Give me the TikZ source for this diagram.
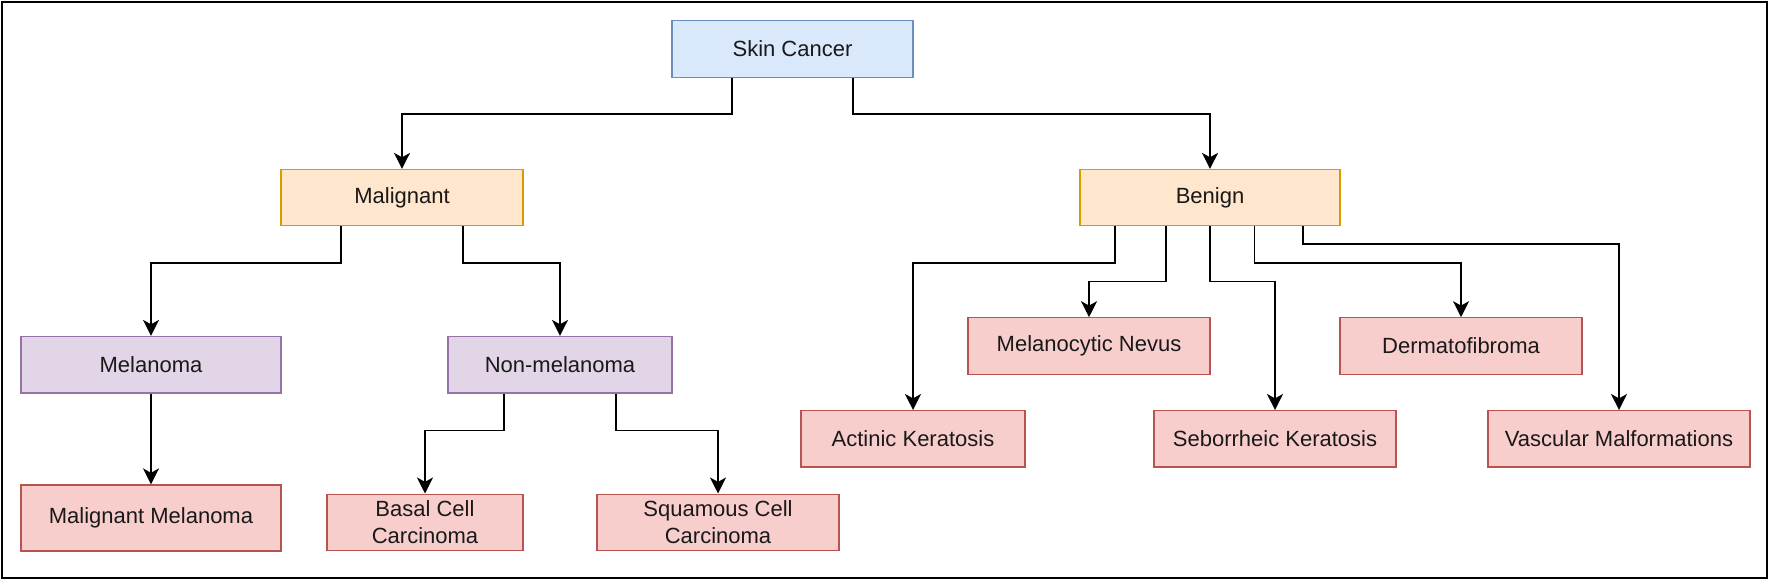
\documentclass[tikz,border=0pt]{standalone}
\usepackage{fontspec}
\setmainfont{Liberation Sans}
\usepackage{tikz}
\usepackage{xcolor}
\usetikzlibrary{arrows.meta,calc,positioning}
\definecolor{Sky_Fill}{HTML}{DAE8FC}
\definecolor{Sky_Line}{HTML}{6C8EBF}
\definecolor{Peach_Fill}{HTML}{FFE6CC}
\definecolor{Peach_Line}{HTML}{D79B00}
\definecolor{Lilac_Fill}{HTML}{E1D5E7}
\definecolor{Lilac_Line}{HTML}{9673A6}
\definecolor{Rose_Fill}{HTML}{F8CECC}
\definecolor{Rose_Line}{HTML}{B85450}

\begin{document}
\begin{tikzpicture}[>={Stealth[length=8pt,width=8pt,inset=2.2pt]}, x=0.5pt, y=-0.5pt,
    box/.style={draw, line width=0.6pt, inner sep=0pt, minimum height=28.2pt, align=center,
        text=black!90, font=\fontsize{11}{13.3}\selectfont},
    rootbox/.style={box, fill=Sky_Fill, draw=Sky_Line},
    groupbox/.style={box, fill=Peach_Fill, draw=Peach_Line},
    typebox/.style={box, fill=Lilac_Fill, draw=Lilac_Line},
    leafbox/.style={box, fill=Rose_Fill, draw=Rose_Line},
    link/.style={->, line width=0.9pt}]
    \useasboundingbox (0,0) rectangle (1770,582);

    % Outer frame
    \draw[line width=1pt] (2,2) rectangle (1767,578);

    % Root
    \node[rootbox, minimum width=120.5pt] (sc) at (792.5,49) {Skin Cancer};

    % Malignant / Benign
    \node[groupbox, minimum width=121pt] (mal) at (402,197.7) {Malignant};
    \node[groupbox, minimum width=130pt] (ben) at (1210,197.7) {Benign};

    % Malignant branch
    \node[typebox, minimum width=130pt] (mel) at (151,364.7) {Melanoma};
    \node[typebox, minimum width=112pt] (nonmel) at (560,364.7) {Non-melanoma};
    \node[leafbox, minimum width=130pt, minimum height=33pt] (malmel) at (151,518) {Malignant Melanoma};
    \node[leafbox, minimum width=98pt] (bcc) at (425,522.3) {Basal Cell\\Carcinoma};
    \node[leafbox, minimum width=121pt] (scc) at (718,522.3) {Squamous Cell\\Carcinoma};

    % Benign branch
    \node[leafbox, minimum width=112pt] (ak) at (913,438.8) {Actinic Keratosis};
    \node[leafbox, minimum width=121pt] (mn) at (1089,346) {Melanocytic Nevus};
    \node[leafbox, minimum width=121pt] (sk) at (1275,438.8) {Seborrheic Keratosis};
    \node[leafbox, minimum width=121pt] (df) at (1461,346) {Dermatofibroma};
    \node[leafbox, minimum width=131pt] (vm) at (1619,438.8) {Vascular Malformations};

    % Root to groups
    \draw[link] ($(sc.south west)!0.25!(sc.south east)$) -- ++(0,36.4) -| (mal.north);
    \draw[link] ($(sc.south west)!0.75!(sc.south east)$) -- ++(0,36.4) -| (ben.north);

    % Malignant to types
    \draw[link] ($(mal.south west)!0.25!(mal.south east)$) -- ++(0,36.3) -| (mel.north);
    \draw[link] ($(mal.south west)!0.75!(mal.south east)$) -- ++(0,36.3) -| (nonmel.north);
    \draw[link] (mel.south) -- (malmel.north);
    \draw[link] ($(nonmel.south west)!0.25!(nonmel.south east)$) -- ++(0,37) -| (bcc.north);
    \draw[link] ($(nonmel.south west)!0.75!(nonmel.south east)$) -- ++(0,37) -| (scc.north);

    % Benign to leaves
    \draw[link] ($(ben.south west)!0.137!(ben.south east)$) -- ++(0,36.3) -| (ak.north);
    \draw[link] ($(ben.south west)!0.33!(ben.south east)$) -- ++(0,55) -| (mn.north);
    \draw[link] (ben.south) -- ++(0,55) -| (sk.north);
    \draw[link] ($(ben.south west)!0.67!(ben.south east)$) -- ++(0,36.3) -| (df.north);
    \draw[link] ($(ben.south west)!0.857!(ben.south east)$) -- ++(0,17.7) -| (vm.north);

\end{tikzpicture}
\end{document}
